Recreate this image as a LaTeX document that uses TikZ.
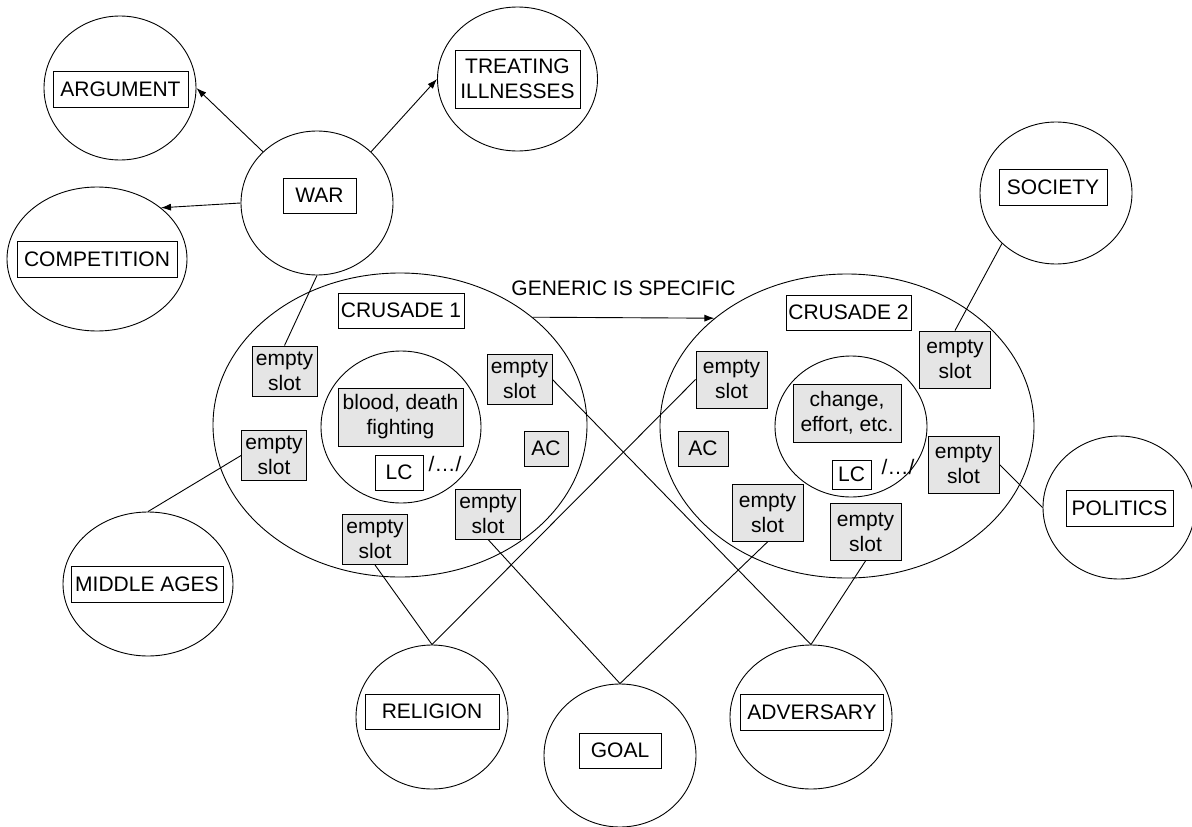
\documentclass[tikz,border=0pt]{standalone}
\usepackage{fontspec}
\setmainfont{Liberation Sans}
\usetikzlibrary{shapes.geometric,arrows.meta}
\definecolor{slotgrey}{RGB}{229,229,229}
\begin{document}
\begin{tikzpicture}[x=1pt,y=-1pt,
  every node/.style={font=\fontsize{21}{25}\selectfont},
  bubble/.style={draw, ellipse, inner sep=0pt, line width=0.9pt},
  lbl/.style={draw, fill=white, inner sep=0pt, minimum height=36pt, align=center, line width=0.9pt},
  slotbox/.style={draw, fill=slotgrey, inner sep=0pt, align=center, line width=0.9pt},
  slotA/.style={slotbox, minimum width=65pt, minimum height=50pt},
  slotB/.style={slotbox, minimum width=71pt, minimum height=57pt},
  link/.style={line width=0.9pt},
  arrowlink/.style={link, -{Latex[length=10pt,width=7pt]}}]
\useasboundingbox (0,0) rectangle (1192,827);

% concept bubbles
\node[bubble, minimum width=152pt, minimum height=144pt] (argC)   at (120,88) {};
\node[bubble, minimum width=160pt, minimum height=144pt] (treatC) at (517.5,79) {};
\node[bubble, minimum width=152pt, minimum height=144pt] (warC)   at (317,203) {};
\node[bubble, minimum width=180pt, minimum height=144pt] (compC)  at (97,259) {};
\node[bubble, minimum width=170pt, minimum height=144pt] (midC)   at (148,584) {};
\node[bubble, minimum width=152pt, minimum height=142pt] (socC)   at (1056,193) {};
\node[bubble, minimum width=152pt, minimum height=143pt] (polC)   at (1119,507.5) {};
\node[bubble, minimum width=152pt, minimum height=144pt] (relC)   at (432,717) {};
\node[bubble, minimum width=152pt, minimum height=143pt] (goalC)  at (620,755.5) {};
\node[bubble, minimum width=162pt, minimum height=144pt] (advC)   at (811,717) {};

% the two crusade spaces and their inner circles
\node[bubble, minimum width=374pt, minimum height=304pt] (cr1) at (400,425) {};
\node[bubble, minimum width=374pt, minimum height=304pt] (cr2) at (847,426) {};
\node[bubble, minimum width=160pt, minimum height=152pt] (in1) at (401,427) {};
\node[bubble, minimum width=152pt, minimum height=141pt] (in2) at (851,426.5) {};

% labels
\node[lbl, minimum width=135pt] (arg)   at (120.5,89) {ARGUMENT};
\node[lbl, minimum width=125pt, minimum height=58pt] (treat) at (517.5,79) {TREATING\\ILLNESSES};
\node[lbl, minimum width=73pt, minimum height=35pt] (war) at (319.5,195.5) {WAR};
\node[lbl, minimum width=160pt] (comp)  at (97,259) {COMPETITION};
\node[lbl, minimum width=152pt] (mid)   at (147,584) {MIDDLE AGES};
\node[lbl, minimum width=108pt] (soc)   at (1053,187) {SOCIETY};
\node[lbl, minimum width=107pt] (pol)   at (1119.5,508) {POLITICS};
\node[lbl, minimum width=134pt, minimum height=35pt] (rel)  at (432,711.5) {RELIGION};
\node[lbl, minimum width=82pt, minimum height=35pt]  (goal) at (620,750.5) {GOAL};
\node[lbl, minimum width=143pt] (adv)   at (812,712) {ADVERSARY};
\node[lbl, minimum width=126pt, minimum height=35pt] (crl1) at (401,310.5) {CRUSADE 1};
\node[lbl, minimum width=125pt, minimum height=35pt] (crl2) at (848.5,312.5) {CRUSADE 2};

% crusade 1 contents
\node[slotA] (sA) at (284.5,371) {empty\\slot};
\node[slotA] (sB) at (274,455.5) {empty\\slot};
\node[slotA] (sC) at (375,539.5) {empty\\slot};
\node[slotA] (sD) at (488,514) {empty\\slot};
\node[slotA] (sE) at (519.5,379.5) {empty\\slot};
\node[slotbox, minimum width=125pt, minimum height=58pt] (blood) at (400.5,417) {blood, death\\fighting};
\node[lbl, minimum width=48pt, minimum height=35pt] (lc1) at (399,472.5) {LC};
\node[slotbox, minimum width=44pt, minimum height=35pt] (ac1) at (546,448.5) {AC};
\node[inner sep=0pt] (dots1) at (445,463.5) {/…/};

% crusade 2 contents
\node[slotB] (sF) at (731.5,379.5) {empty\\slot};
\node[slotB] (sG) at (767.5,513) {empty\\slot};
\node[slotB] (sH) at (865.5,532) {empty\\slot};
\node[slotB] (sI) at (955,359.5) {empty\\slot};
\node[slotB] (sJ) at (963.5,464.5) {empty\\slot};
\node[slotbox, minimum width=108pt, minimum height=58pt] (change) at (847,413) {change,\\effort, etc.};
\node[lbl, minimum width=39pt, minimum height=29pt] (lc2) at (851.5,474.5) {LC};
\node[slotbox, minimum width=50pt, minimum height=35pt] (ac2) at (703,448.5) {AC};
\node[inner sep=0pt] (dots2) at (898,467) {/…/};

% metaphor arrows out of WAR
\draw[arrowlink] (warC.north west) -- (argC.east);
\draw[arrowlink] (warC.north east) -- (treatC.west);
\draw[arrowlink] (warC.west) -- (compC.north east);

% mapping between the crusades
\draw[arrowlink] (cr1.north east) -- node[above=22pt, inner sep=0pt] (generic) {GENERIC IS SPECIFIC} (cr2.north west);

% slot fillers
\draw[link] (warC.south) -- (sA.north);
\draw[link] (sB.west) -- (midC.north);
\draw[link] (sC.south) -- (relC.north);
\draw[link] (sF.west) -- (relC.north);
\draw[link] (sD.south) -- (goalC.north);
\draw[link] (sG.south) -- (goalC.north);
\draw[link] (sE.east) -- (advC.north);
\draw[link] (sH.south) -- (advC.north);
\draw[link] (sI.north) -- (socC.south west);
\draw[link] (sJ.east) -- (polC.west);
\end{tikzpicture}
\end{document}
